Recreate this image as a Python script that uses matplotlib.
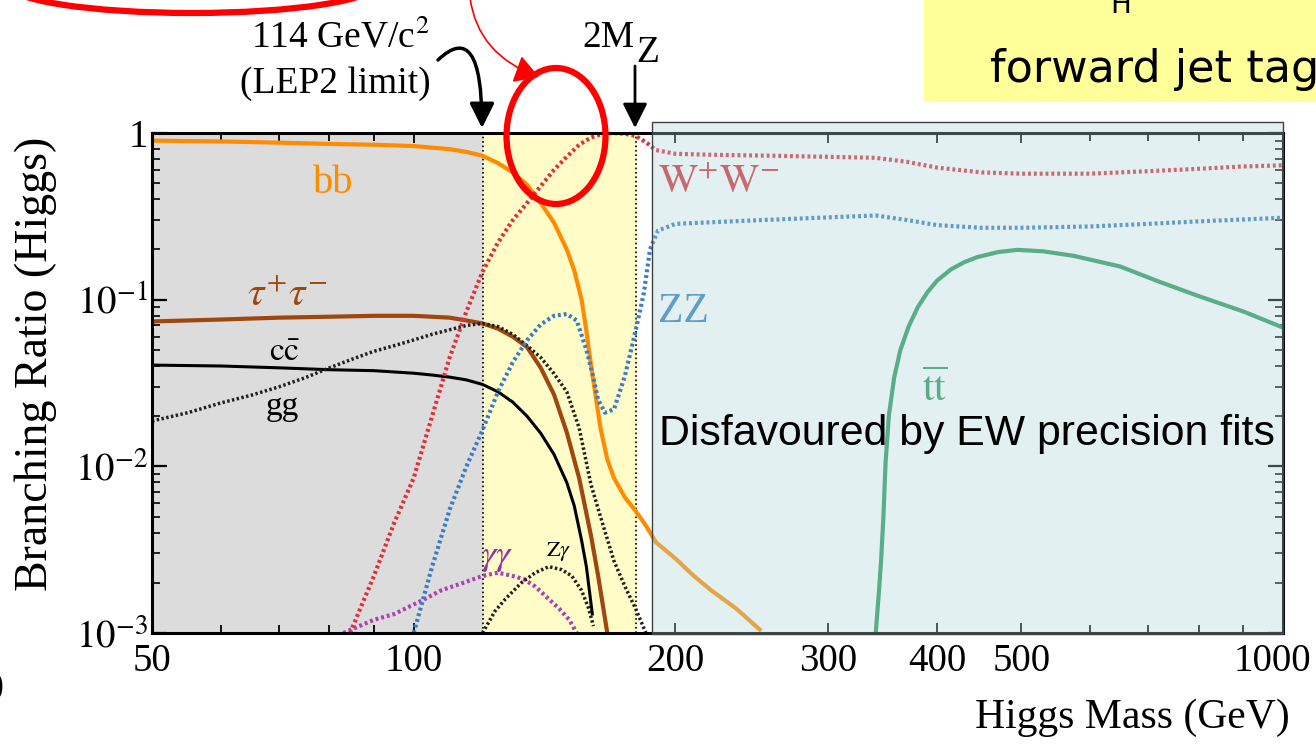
import numpy as np
import matplotlib
matplotlib.use("Agg")
import matplotlib.pyplot as plt
from matplotlib.patches import Rectangle, Ellipse, FancyArrowPatch
from matplotlib.path import Path
from matplotlib.transforms import ScaledTranslation
from matplotlib.ticker import FixedLocator, FixedFormatter, LogLocator, NullFormatter

plt.rcParams['font.family'] = ['Liberation Serif', 'DejaVu Serif']
plt.rcParams['mathtext.fontset'] = 'stix'

# --- data (Higgs mass in GeV, branching ratio) ---
bb_mass = [50, 60, 70, 80, 90, 100, 110, 115, 120, 125, 130, 135, 140, 145, 150, 153, 156,
           158, 160, 162, 164, 167, 170, 175, 180, 185, 190, 200, 210, 220, 235, 250]
bb_br = [0.90, 0.89, 0.875, 0.86, 0.85, 0.835, 0.80, 0.77, 0.73, 0.66, 0.58, 0.49, 0.38, 0.29,
         0.20, 0.15, 0.10, 0.065, 0.040, 0.026, 0.017, 0.011, 0.0085, 0.0065, 0.0054, 0.0044,
         0.0035, 0.0028, 0.0022, 0.0018, 0.0014, 0.00105]

ww_mass = [84.5, 90, 95, 100, 105, 110, 115, 120, 125, 130, 135, 140, 145, 150, 155, 160, 165,
           170, 175, 180, 185, 190, 200, 220, 260, 340, 370, 400, 450, 500, 600, 700, 800, 900, 1000]
ww_br = [0.001, 0.0022, 0.0046, 0.0085, 0.02, 0.045, 0.085, 0.147, 0.22, 0.30, 0.38, 0.48, 0.60,
         0.72, 0.85, 0.94, 0.99, 1.0, 0.99, 0.96, 0.88, 0.79, 0.75, 0.74, 0.73, 0.71, 0.67, 0.62,
         0.58, 0.57, 0.57, 0.59, 0.61, 0.63, 0.64]

zz_mass = [100, 105, 110, 115, 120, 125, 130, 135, 140, 145, 150, 154, 158, 161, 163, 166, 170,
           175, 180, 184, 187, 191, 200, 250, 340, 370, 400, 450, 500, 600, 700, 800, 1000]
zz_br = [0.001, 0.0025, 0.0055, 0.010, 0.0165, 0.028, 0.042, 0.057, 0.071, 0.080, 0.082, 0.075,
         0.050, 0.034, 0.025, 0.021, 0.022, 0.035, 0.065, 0.11, 0.20, 0.26, 0.285, 0.30, 0.32,
         0.30, 0.28, 0.27, 0.27, 0.275, 0.285, 0.295, 0.31]

tt_mass = [340, 343, 345, 347, 349, 352, 357, 363, 371, 380, 390, 400, 415, 430, 445, 470, 495,
           530, 575, 650, 718, 800, 900, 1000]
tt_br = [0.001, 0.0018, 0.0028, 0.005, 0.0105, 0.02, 0.034, 0.05, 0.069, 0.090, 0.111, 0.130,
         0.152, 0.168, 0.180, 0.193, 0.199, 0.195, 0.183, 0.158, 0.129, 0.105, 0.085, 0.068]

tau_mass = [50, 60, 70, 80, 90, 100, 110, 115, 120, 125, 130, 135, 140, 145, 150, 155, 160, 163, 167]
tau_br = [0.074, 0.076, 0.078, 0.079, 0.080, 0.080, 0.078, 0.075, 0.072, 0.067, 0.060, 0.052,
          0.039, 0.027, 0.016, 0.0085, 0.0038, 0.0022, 0.001]

cc_mass = [50, 60, 70, 80, 90, 100, 105, 110, 115, 120, 125, 130, 135, 140, 145, 150, 153, 156,
           158, 160.5]
cc_br = [0.0405, 0.040, 0.039, 0.038, 0.0375, 0.0362, 0.0353, 0.0343, 0.0330, 0.0310, 0.0280,
         0.0243, 0.0200, 0.0158, 0.0118, 0.0080, 0.0058, 0.0036, 0.0025, 0.0013]

gg_mass = [50, 55, 60, 65, 70, 75, 80, 85, 90, 95, 100, 105, 110, 115, 120, 125, 130, 135, 140,
           145, 150, 155, 160, 165, 170, 175, 180, 185]
gg_br = [0.0187, 0.021, 0.024, 0.0267, 0.030, 0.034, 0.039, 0.044, 0.049, 0.053, 0.0573, 0.062,
         0.066, 0.070, 0.072, 0.069, 0.062, 0.053, 0.045, 0.036, 0.028, 0.017, 0.0077, 0.0045,
         0.0027, 0.0019, 0.0014, 0.001]

aa_mass = [83, 90, 95, 103, 107.5, 114, 120, 125, 130, 134, 138, 143, 147, 151, 154]
aa_br = [0.001, 0.0012, 0.0013, 0.0016, 0.0018, 0.002, 0.0022, 0.0023, 0.0022, 0.0021, 0.0019,
         0.0016, 0.0014, 0.0012, 0.001]

za_mass = [120, 124, 127.5, 133, 138, 143, 148, 152, 156, 159, 161]
za_br = [0.001, 0.00135, 0.0016, 0.002, 0.0023, 0.0025, 0.0024, 0.0022, 0.0018, 0.0014, 0.0011]

mass_ticks = [50, 100, 200, 300, 400, 500, 1000]
mass_tick_labels = ['50', '100', '200', '300', '400', '500', '1000']
mass_minor = [60, 70, 80, 90, 600, 700, 800, 900]
br_ticks = [1e-3, 1e-2, 1e-1, 1]
br_tick_labels = [r'$10^{-3}$', r'$10^{-2}$', r'$10^{-1}$', '1']

W, H = 1316, 747


def fx(px):
    return px / W


def fy(py):
    return 1 - py / H


fig = plt.figure(figsize=(W / 100, H / 100), dpi=100)
ax = fig.add_axes([fx(152), fy(633), (1283 - 152) / W, (633 - 133) / H])
ax.set_xscale('log')
ax.set_yscale('log')

# shaded mass regions
ax.axvspan(50, 120, color='#dcdcdc', zorder=0)
ax.axvspan(120, 180, color='#fffcc8', zorder=0)
ax.axvline(120, color='k', ls=':', lw=1.2, zorder=1)
ax.axvline(180, color='k', ls=':', lw=1.2, zorder=1)

dots = (0, (0.7, 0.7))
ax.plot(bb_mass, bb_br, color='#ff8c00', lw=3)
ax.plot(tau_mass, tau_br, color='#a0460f', lw=3)
ax.plot(cc_mass, cc_br, color='black', lw=2.2)
ax.plot(gg_mass, gg_br, color='#202020', lw=2.5, ls=dots)
ax.plot(aa_mass, aa_br, color='#b040b0', lw=3, ls=dots)
ax.plot(za_mass, za_br, color='#202020', lw=2.5, ls=dots)
ax.plot(ww_mass, ww_br, color='#e0303c', lw=3, ls=dots)
ax.plot(zz_mass, zz_br, color='#3a7dc4', lw=3, ls=dots)
ax.plot(tt_mass, tt_br, color='#2e9960', lw=3)

# curve labels
ax.text(80.9, 0.50, 'bb', color='#ff8c00', fontsize=29, ha='center', va='center')
ax.text(71.6, 0.105, r'$\tau^{+}\tau^{-}$', color='#a0460f', fontsize=30, ha='center', va='center')
ax.text(71.1, 0.048, r'$\mathrm{c\bar{c}}$', color='black', fontsize=24, ha='center', va='center')
ax.text(70.6, 0.0229, 'gg', color='black', fontsize=24, ha='center', va='center')
ax.text(124.9, 0.00285, r'$\gamma\gamma$', color='#9a30a0', fontsize=26, ha='center', va='center')
ax.text(146.7, 0.0031, r'$\mathrm{Z}\gamma$', color='black', fontsize=16, ha='center', va='center')
ax.text(224.6, 0.50, r'$\mathrm{W^{+}W^{-}}$', color='#d62e3a', fontsize=30, ha='center', va='center')
ax.text(204.2, 0.085, 'ZZ', color='#3a7dc4', fontsize=30, ha='center', va='center')
ax.text(397, 0.029, r'$\overline{\mathrm{tt}}$', color='#2e9960', fontsize=30, ha='center', va='center')

ax.xaxis.set_major_locator(FixedLocator(mass_ticks))
ax.xaxis.set_major_formatter(FixedFormatter(mass_tick_labels))
ax.xaxis.set_minor_locator(FixedLocator(mass_minor))
ax.xaxis.set_minor_formatter(NullFormatter())
ax.yaxis.set_major_locator(FixedLocator(br_ticks))
ax.yaxis.set_major_formatter(FixedFormatter(br_tick_labels))
ax.yaxis.set_minor_locator(LogLocator(base=10, subs=np.arange(2, 10)))
ax.yaxis.set_minor_formatter(NullFormatter())
ax.tick_params(which='both', direction='in', top=True, right=True, colors='black')
ax.tick_params(axis='x', which='major', length=7, width=1.3, labelsize=28, pad=7)
ax.tick_params(axis='x', which='minor', length=6, width=1.3)
ax.tick_params(axis='y', which='major', length=11, width=1.6, labelsize=28, pad=3)
ax.tick_params(axis='y', which='minor', length=6, width=1.2)
for s in ax.spines.values():
    s.set_linewidth(2.2)
ax.set_xlim(50, 1000)
ax.set_ylim(1e-3, 1)

# the 1000 label sits a little left of its tick in the original
last = ax.xaxis.get_major_ticks()[-1]
last.label1.set_transform(last.label1.get_transform()
                          + ScaledTranslation(-0.11, 0, fig.dpi_scale_trans))

fig.text(fx(36), fy(364), 'Branching Ratio (Higgs)', rotation=90, fontsize=33,
         ha='center', va='center')
fig.text(fx(1290), fy(737), 'Higgs Mass (GeV)', fontsize=30, ha='right', va='bottom')

# overlay box for the excluded high mass region
fig.add_artist(Rectangle((fx(652), fy(634)), (1283 - 652) / W, (634 - 122) / H,
                         transform=fig.transFigure, facecolor='#acd4d7', alpha=0.35,
                         edgecolor='none', zorder=1))
fig.add_artist(Rectangle((fx(652), fy(634)), (1283 - 652) / W, (634 - 122) / H,
                         transform=fig.transFigure, fill=False, edgecolor='#404040',
                         lw=1, zorder=1))
fig.text(fx(659), fy(445), 'Disfavoured by EW precision fits', fontsize=30.8,
         family=['Liberation Sans', 'DejaVu Sans'], ha='left', va='baseline', zorder=3)

# annotations above the plot
fig.text(fx(340), fy(48), '114 GeV/c$^{2}$', fontsize=27, ha='center', va='baseline')
fig.text(fx(335), fy(93), '(LEP2 limit)', fontsize=27, ha='center', va='baseline')
fig.text(fx(635), fy(47), '2M', fontsize=27, ha='right', va='baseline')
fig.text(fx(636), fy(62), 'Z', fontsize=27, ha='left', va='baseline')

lep_path = Path([(fx(438), fy(60)), (fx(482), fy(18)), (fx(482), fy(128))],
                [Path.MOVETO, Path.CURVE3, Path.CURVE3])
fig.add_artist(FancyArrowPatch(path=lep_path, arrowstyle='-|>,head_length=0.6,head_width=0.3',
                               mutation_scale=25, lw=2.5, color='black',
                               transform=fig.transFigure, zorder=4))
fig.add_artist(FancyArrowPatch((fx(635), fy(66)), (fx(635), fy(128)),
                               arrowstyle='-|>,head_length=0.6,head_width=0.3',
                               mutation_scale=25, lw=2, color='black', shrinkA=0, shrinkB=0,
                               transform=fig.transFigure, zorder=4))

red_path = Path([(fx(470), fy(-2)), (fx(478), fy(55)), (fx(539), fy(77))],
                [Path.MOVETO, Path.CURVE3, Path.CURVE3])
fig.add_artist(FancyArrowPatch(path=red_path, arrowstyle='-|>,head_length=0.6,head_width=0.35',
                               mutation_scale=25, lw=1.2, color='#ff0000',
                               transform=fig.transFigure, zorder=5))
fig.add_artist(Ellipse((fx(556), fy(136)), 99 / W, 136 / H, transform=fig.transFigure,
                       fill=False, edgecolor='#ff0000', lw=4.5, zorder=5))
fig.add_artist(Ellipse((fx(192), fy(-16)), 370 / W, 58 / H, transform=fig.transFigure,
                       fill=False, edgecolor='#ff0000', lw=4.5, zorder=5))

# yellow note box at the top right
fig.add_artist(Rectangle((fx(924), fy(102)), (W - 924) / W, 102 / H, transform=fig.transFigure,
                         facecolor='#ffff99', edgecolor='none', zorder=1))
fig.text(fx(990), fy(82), 'forward jet tag', fontsize=32, family=['DejaVu Sans'],
         ha='left', va='baseline', zorder=3)
fig.text(fx(1110), fy(13), 'H', fontsize=20, family=['DejaVu Sans'],
         ha='left', va='baseline', zorder=3)
fig.text(fx(4), fy(686), ')', fontsize=26, ha='right', va='center')

fig.savefig('out.png', dpi=100)
